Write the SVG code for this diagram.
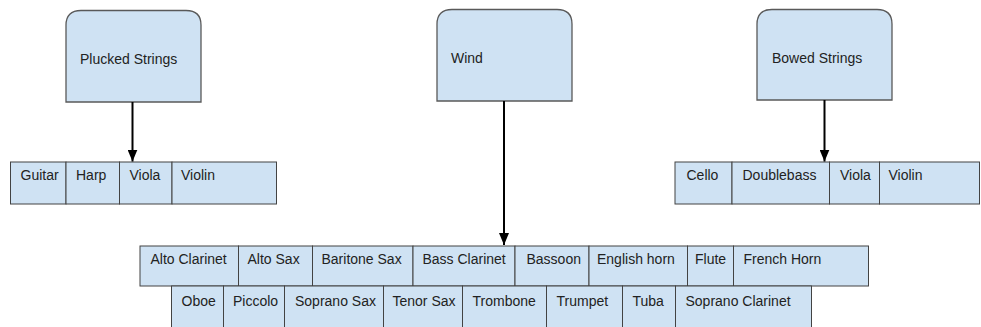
<svg xmlns="http://www.w3.org/2000/svg" width="981" height="327" viewBox="0 0 981 327">
  <defs>
    <style>
      .box { fill: #cfe2f3; stroke: #595959; stroke-width: 1.3; }
      .cell { fill: #cfe2f3; stroke: #434343; stroke-width: 1; }
      .lbl { font-family: "Liberation Sans", Arial, sans-serif; font-size: 14px; fill: #222222; }
      .edge { stroke: #000000; stroke-width: 2; fill: none; marker-end: url(#arrow); }
    </style>
    <!-- filled triangular arrowhead, tip at the end of the line -->
    <marker id="arrow" viewBox="0 0 12 10" refX="12" refY="5" markerWidth="12" markerHeight="10" markerUnits="userSpaceOnUse" orient="auto">
      <path d="M0,0 L12,5 L0,10 Z" fill="#000000"/>
    </marker>
  </defs>

  <!-- category boxes: rounded top corners, square bottom -->
  <g id="plucked-strings">
    <path class="box" d="M66,102 V25 Q66,10.5 81,10.5 H186 Q201,10.5 201,25 V102 Z"/>
    <text class="lbl" x="80" y="64">Plucked Strings</text>
  </g>
  <g id="wind">
    <path class="box" d="M437,101 V24 Q437,9.5 452,9.5 H557 Q572,9.5 572,24 V101 Z"/>
    <text class="lbl" x="451" y="63">Wind</text>
  </g>
  <g id="bowed-strings">
    <path class="box" d="M757,100 V24 Q757,9.5 772,9.5 H877 Q892,9.5 892,24 V100 Z"/>
    <text class="lbl" x="772" y="63">Bowed Strings</text>
  </g>

  <!-- instrument lists -->
  <g id="plucked-list">
    <rect class="cell" x="10.5" y="162" width="55.5" height="42"/>
    <rect class="cell" x="66" y="162" width="53.5" height="42"/>
    <rect class="cell" x="119.5" y="162" width="52.5" height="42"/>
    <rect class="cell" x="172" y="162" width="104.5" height="42"/>
    <text class="lbl" x="20.5" y="180">Guitar</text>
    <text class="lbl" x="76" y="180">Harp</text>
    <text class="lbl" x="129.5" y="180">Viola</text>
    <text class="lbl" x="181" y="180">Violin</text>
  </g>

  <g id="bowed-list">
    <rect class="cell" x="675" y="162" width="57" height="42"/>
    <rect class="cell" x="732" y="162" width="97.5" height="42"/>
    <rect class="cell" x="829.5" y="162" width="50" height="42"/>
    <rect class="cell" x="879.5" y="162" width="100" height="42"/>
    <text class="lbl" x="686.5" y="180">Cello</text>
    <text class="lbl" x="742.5" y="180">Doublebass</text>
    <text class="lbl" x="840" y="180">Viola</text>
    <text class="lbl" x="888.5" y="180">Violin</text>
  </g>

  <g id="wind-list">
    <rect class="cell" x="140" y="246" width="98.5" height="40"/>
    <rect class="cell" x="238.5" y="246" width="74" height="40"/>
    <rect class="cell" x="312.5" y="246" width="100.5" height="40"/>
    <rect class="cell" x="413" y="246" width="102" height="40"/>
    <rect class="cell" x="515" y="246" width="74" height="40"/>
    <rect class="cell" x="589" y="246" width="98.5" height="40"/>
    <rect class="cell" x="687.5" y="246" width="46" height="40"/>
    <rect class="cell" x="733.5" y="246" width="135" height="40"/>
    <text class="lbl" x="150.5" y="264">Alto Clarinet</text>
    <text class="lbl" x="247.5" y="264">Alto Sax</text>
    <text class="lbl" x="321.5" y="264">Baritone Sax</text>
    <text class="lbl" x="422.5" y="264">Bass Clarinet</text>
    <text class="lbl" x="526.5" y="264">Bassoon</text>
    <text class="lbl" x="597" y="264">English horn</text>
    <text class="lbl" x="695" y="264">Flute</text>
    <text class="lbl" x="743.5" y="264">French Horn</text>

    <rect class="cell" x="171.5" y="286" width="52" height="50"/>
    <rect class="cell" x="223.5" y="286" width="61" height="50"/>
    <rect class="cell" x="284.5" y="286" width="99" height="50"/>
    <rect class="cell" x="383.5" y="286" width="79" height="50"/>
    <rect class="cell" x="462.5" y="286" width="84" height="50"/>
    <rect class="cell" x="546.5" y="286" width="76" height="50"/>
    <rect class="cell" x="622.5" y="286" width="53" height="50"/>
    <rect class="cell" x="675.5" y="286" width="136" height="50"/>
    <text class="lbl" x="181.5" y="306">Oboe</text>
    <text class="lbl" x="233" y="306">Piccolo</text>
    <text class="lbl" x="295" y="306">Soprano Sax</text>
    <text class="lbl" x="392.5" y="306">Tenor Sax</text>
    <text class="lbl" x="472.5" y="306">Trombone</text>
    <text class="lbl" x="556.5" y="306">Trumpet</text>
    <text class="lbl" x="632.5" y="306">Tuba</text>
    <text class="lbl" x="685.5" y="306">Soprano Clarinet</text>
  </g>

  <!-- connectors -->
  <g id="connectors">
    <line class="edge" x1="132.5" y1="102" x2="132.5" y2="161.5"/>
    <line class="edge" x1="504" y1="101" x2="504" y2="245"/>
    <line class="edge" x1="824.5" y1="100" x2="824.5" y2="161.5"/>
  </g>
</svg>
